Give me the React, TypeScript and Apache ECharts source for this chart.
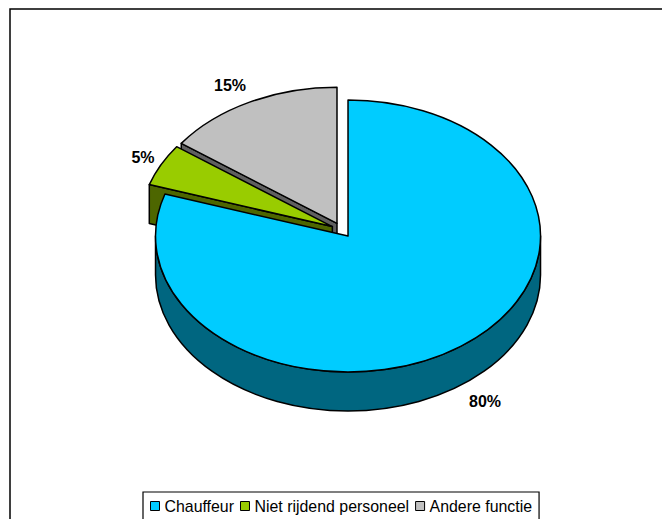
import React, { useEffect, useRef } from "react";
import * as echarts from "echarts";

const categories = ["Chauffeur", "Niet rijdend personeel", "Andere functie"];
const values = [80, 5, 15];
const topColors = ["#00CCFF", "#99CC00", "#C0C0C0"];
const sideColors = ["#006680", "#4D6600", "#606060"];
const labelPositions = [
  [485, 401],
  [143, 157],
  [230, 85],
];

const CX = 341.8;
const CY = 230;
const RX = 192.5;
const RY = 136;
const DEPTH = 39;
const EXPLODE = 0.055;
const LINE = "#000000";
const FONT = '"Liberation Sans", Arial, sans-serif';
const total = values.reduce((a, b) => a + b, 0);

const pt = (ax: number, ay: number, deg: number, dy = 0) => {
  const r = (deg * Math.PI) / 180;
  return [ax + Math.sin(r) * RX, ay - Math.cos(r) * RY + dy];
};

const makeRenderItem = (index: number) => (_params: any, api: any) => {
  const value = api.value(0);
  const before = values.slice(0, index).reduce((a, b) => a + b, 0);
  const a0 = (before / total) * 360;
  const a1 = ((before + value) / total) * 360;
  const mid = (((a0 + a1) / 2) * Math.PI) / 180;
  const ax = CX + Math.sin(mid) * RX * EXPLODE;
  const ay = CY - Math.cos(mid) * RY * EXPLODE;
  const children: any[] = [];
  const style = (fill: string) => ({ fill, stroke: LINE, lineWidth: 1.5, lineJoin: "round" });
  const side = sideColors[index];

  // wall along the start radial, when it faces the viewer
  if (a0 > 180 && a0 < 360) {
    const p = pt(ax, ay, a0);
    children.push({
      type: "path",
      shape: {
        pathData: `M${ax} ${ay}L${p[0]} ${p[1]}L${p[0]} ${p[1] + DEPTH}L${ax} ${ay + DEPTH}Z`,
      },
      style: style(side),
    });
  }
  // outer wall on the front half of the ellipse
  const w0 = Math.max(a0, 90);
  const w1 = Math.min(a1, 270);
  if (w1 > w0) {
    const s = pt(ax, ay, w0);
    const e = pt(ax, ay, w1);
    children.push({
      type: "path",
      shape: {
        pathData:
          `M${s[0]} ${s[1]}A${RX} ${RY} 0 ${w1 - w0 > 180 ? 1 : 0} 1 ${e[0]} ${e[1]}` +
          `L${e[0]} ${e[1] + DEPTH}A${RX} ${RY} 0 ${w1 - w0 > 180 ? 1 : 0} 0 ${s[0]} ${s[1] + DEPTH}Z`,
      },
      style: style(side),
    });
  }
  const s = pt(ax, ay, a0);
  const e = pt(ax, ay, a1);
  children.push({
    type: "path",
    shape: {
      pathData: `M${ax} ${ay}L${s[0]} ${s[1]}A${RX} ${RY} 0 ${a1 - a0 > 180 ? 1 : 0} 1 ${e[0]} ${e[1]}Z`,
    },
    style: style(topColors[index]),
  });
  children.push({
    type: "text",
    x: labelPositions[index][0],
    y: labelPositions[index][1],
    style: {
      text: `${value}%`,
      fill: "#000000",
      font: `bold 16px ${FONT}`,
      align: "center",
      verticalAlign: "middle",
    },
  });
  return { type: "group", children };
};

export default function App() {
  const ref = useRef<HTMLDivElement>(null);
  useEffect(() => {
    document.body.style.margin = "0";
    const chart = echarts.init(ref.current!, null, { renderer: "svg" });
    chart.setOption({
      animation: false,
      backgroundColor: "#FFFFFF",
      graphic: [
        {
          type: "polyline",
          silent: true,
          shape: { points: [[10, 525], [10, 9], [670, 9]] },
          style: { stroke: "#000000", lineWidth: 1.5, fill: "none" },
        },
      ],
      legend: {
        left: 143,
        top: 492,
        orient: "horizontal",
        padding: [6, 7, 9, 7],
        itemWidth: 9,
        itemHeight: 9,
        itemGap: 6,
        selectedMode: false,
        borderColor: "#000000",
        borderWidth: 1.2,
        textStyle: { fontFamily: FONT, fontSize: 15.9, color: "#000000" },
        data: categories.map((name, i) => ({
          name,
          icon: "rect",
          itemStyle: { color: topColors[i], borderColor: "#000000", borderWidth: 1 },
        })),
      },
      series: categories.map((name, i) => ({
        type: "custom",
        name,
        coordinateSystem: "none",
        z: i === 0 ? 5 : i === 1 ? 4 : 3,
        silent: true,
        itemStyle: { color: topColors[i] },
        renderItem: makeRenderItem(i),
        data: [[values[i]]],
      })),
    });
    return () => chart.dispose();
  }, []);
  return <div ref={ref} style={{ position: "absolute", left: 0, top: 0, width: 662, height: 519 }} />;
}
